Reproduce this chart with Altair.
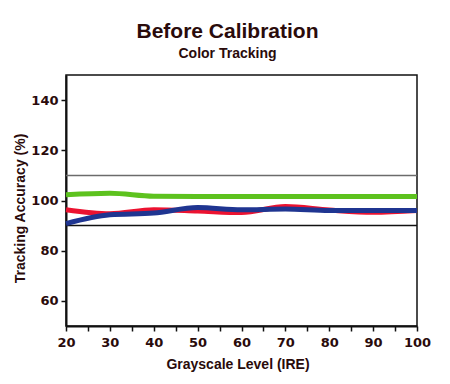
import altair as alt
import pandas as pd

ire = [20, 30, 40, 50, 60, 70, 80, 90, 100]
green = [102.3, 102.9, 101.7, 101.6, 101.6, 101.6, 101.6, 101.6, 101.6]
red = [96.3, 94.7, 96.3, 95.8, 95.2, 97.6, 96.2, 95.3, 96.0]
blue = [90.8, 94.3, 95.0, 97.2, 96.3, 96.6, 96.0, 96.0, 96.0]
series_names = ["Green", "Red", "Blue"]
series_colors = ["#5dc21e", "#ec1230", "#1f3591"]
ref_values = [110, 90]
ref_colors = ["#6b6b6b", "#111111"]

rows = []
for name, vals in zip(series_names, [green, red, blue]):
    for x, v in zip(ire, vals):
        rows.append({"IRE": x, "Accuracy": v, "Series": name})
df = pd.DataFrame(rows)
ref_df = pd.DataFrame({"y": ref_values, "c": ["gray", "black"]})

TXT = "#2a0b0b"
FONT = "Liberation Sans"

x_enc = alt.X(
    "IRE:Q",
    scale=alt.Scale(domain=[20, 100], nice=False, zero=False),
    axis=alt.Axis(
        title="Grayscale Level (IRE)",
        values=list(range(20, 101, 5)),
        labelExpr="datum.value % 10 == 0 ? datum.label : ''",
        grid=False,
        tickSize=5,
        tickColor="#111111",
        tickWidth=1.5,
        domainColor="#111111",
        domainWidth=2,
        labelFont="DejaVu Sans",
        labelFontWeight="bold",
        labelFontSize=13,
        labelColor=TXT,
        labelPadding=5,
        labelFlush=False,
        titleFont=FONT,
        titleFontWeight="bold",
        titleFontSize=14,
        titleColor=TXT,
        titleX=171.5,
        titleY=42,
        titleBaseline="alphabetic",
    ),
)
y_enc = alt.Y(
    "Accuracy:Q",
    scale=alt.Scale(domain=[50, 150], nice=False, zero=False),
    axis=alt.Axis(
        title="Tracking Accuracy (%)",
        values=list(range(60, 141, 10)),
        labelExpr="datum.value % 20 == 0 ? datum.label : ''",
        grid=False,
        tickSize=5,
        tickColor="#111111",
        tickWidth=1.5,
        domainColor="#111111",
        domainWidth=2,
        labelFont="DejaVu Sans",
        labelFontWeight="bold",
        labelFontSize=13,
        labelColor=TXT,
        labelPadding=3,
        titleFont=FONT,
        titleFontWeight="bold",
        titleFontSize=14,
        titleColor=TXT,
        titleX=-46,
        titleY=133,
        titleBaseline="middle",
        titleAngle=270,
    ),
)

lines = alt.Chart(df).mark_line(strokeWidth=5, interpolate="monotone").encode(
    x=x_enc,
    y=y_enc,
    color=alt.Color("Series:N", scale=alt.Scale(domain=series_names, range=series_colors), legend=None),
    order=alt.Order("IRE:Q"),
)

refs = alt.Chart(ref_df).mark_rule(strokeWidth=1.5).encode(
    y=alt.Y("y:Q"),
    color=alt.Color("c:N", scale=alt.Scale(domain=["gray", "black"], range=ref_colors), legend=None),
)

chart = alt.layer(refs, lines).resolve_scale(color="independent").properties(
    width=351,
    height=251,
    autosize=alt.AutoSizeParams(type="none"),
    padding={"left": 58, "top": 67, "right": 25, "bottom": 50},
    background="white",
    title=alt.TitleParams(
        text="Before Calibration",
        subtitle="Color Tracking",
        font=FONT,
        fontSize=21,
        fontWeight="bold",
        color=TXT,
        subtitleFont=FONT,
        subtitleFontSize=14,
        subtitleFontWeight="bold",
        subtitleColor=TXT,
        subtitlePadding=5,
        anchor="middle",
        dx=-14,
        offset=14,
    ),
).configure_view(stroke="#111111", strokeWidth=1.5)

chart.save("out.html", embed_options={"renderer": "svg", "actions": False})
